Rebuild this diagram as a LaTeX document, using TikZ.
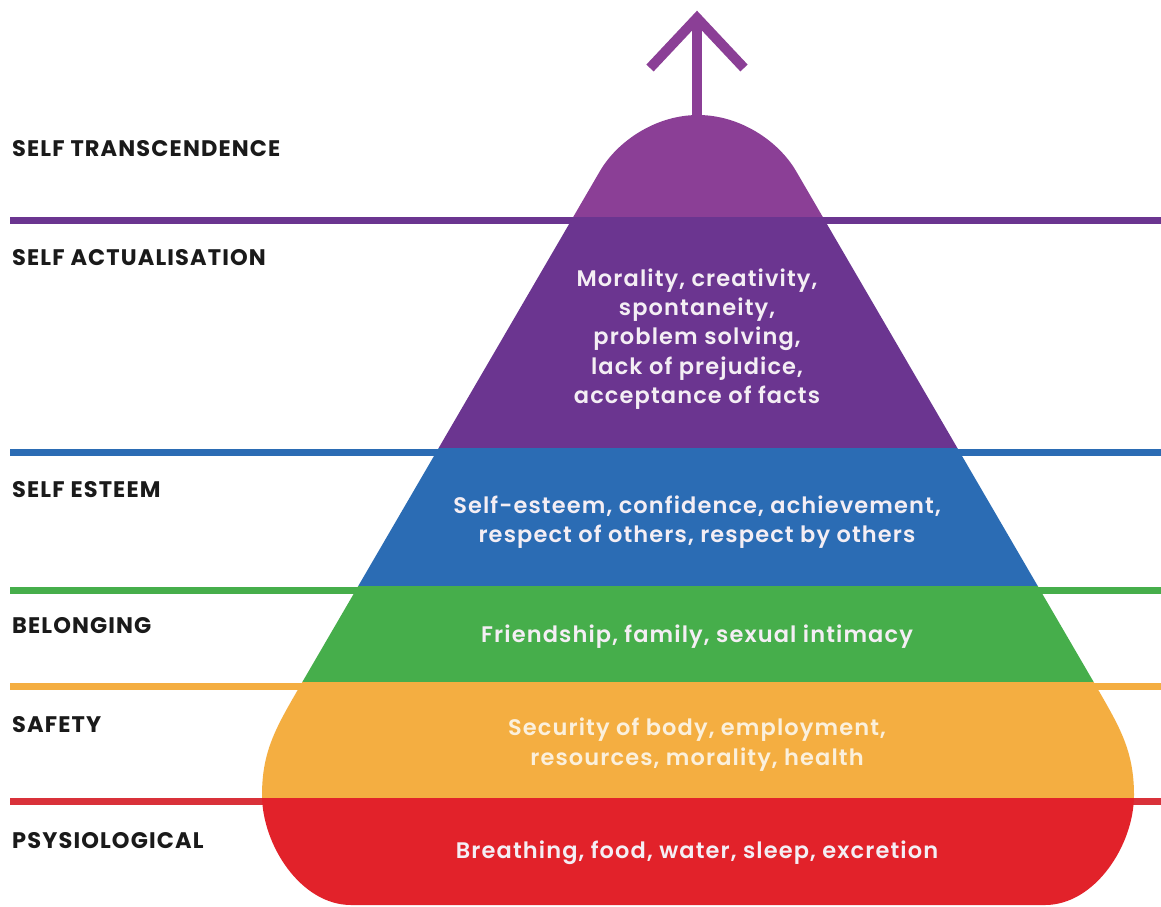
\documentclass[tikz,border=0pt]{standalone}
\usepackage{fontspec}
\setmainfont{Poppins}
\newfontfamily\popsb{Poppins SemiBold}[LetterSpace=5]
\newfontfamily\labfont{Poppins}[LetterSpace=5]
\definecolor{cDome}{HTML}{8B3F96}
\definecolor{cPurple}{HTML}{6B3590}
\definecolor{cBlue}{HTML}{2B6CB4}
\definecolor{cGreen}{HTML}{46AE4B}
\definecolor{cOrange}{HTML}{F4AE41}
\definecolor{cRed}{HTML}{E2222A}
\definecolor{cRedLine}{HTML}{D9313A}
\definecolor{labk}{HTML}{1A1A1A}
\definecolor{txtw}{HTML}{F4EEF4}
\definecolor{txto}{HTML}{FBF0DC}
\tikzset{
  levelline/.style={line width=7pt},
  lab/.style={anchor=base west, font=\labfont\fontsize{22.5}{27}\selectfont\bfseries, text=labk, inner sep=0pt},
  inner/.style={font=\popsb\fontsize{22.5}{29.3}\selectfont, text=txtw, align=center, inner sep=0pt},
  arrowstroke/.style={draw=cDome, line width=10pt, miter limit=10}
}
\def\pyr{(698,115) .. controls (740,115) and (778.5,141) .. (796,171) -- (1096,686) .. controls (1119,726) and (1134,750) .. (1134,795) .. controls (1134,845) and (1095,905) .. (1045,905) -- (351,905) .. controls (301,905) and (262,845) .. (262,795) .. controls (262,750) and (277,726) .. (300,686) -- (600,171) .. controls (617.5,141) and (656,115) .. (698,115) -- cycle}
\begin{document}
\begin{tikzpicture}[x=1pt,y=-1pt]
\useasboundingbox (0,0) rectangle (1161,906);
\fill[white] (0,0) rectangle (1161,906);
% level lines (behind pyramid)
\draw[levelline, cPurple] (10,220) -- (1161,220);
\draw[levelline, cBlue] (10,452) -- (1161,452);
\draw[levelline, cGreen] (10,590) -- (1161,590);
\draw[levelline, cOrange] (10,686) -- (1161,686);
\draw[levelline, cRedLine] (10,801.5) -- (1161,801.5);
% arrow
\draw[arrowstroke] (697,20) -- (697,120);
\draw[arrowstroke] (650,68) -- (697,18) -- (744,68);
% pyramid
\begin{scope}
\clip \pyr;
\fill[cDome] (0,0) rectangle (1161,217);
\fill[cPurple] (0,217) rectangle (1161,448);
\fill[cBlue] (0,448) rectangle (1161,586);
\fill[cGreen] (0,586) rectangle (1161,682);
\fill[cOrange] (0,682) rectangle (1161,798);
\fill[cRed] (0,798) rectangle (1161,906);
\end{scope}
% left labels
\node[lab] (l1) at (12,156.5) {SELF TRANSCENDENCE};
\node[lab] (l2) at (12,265) {SELF ACTUALISATION};
\node[lab] (l3) at (12,497) {SELF ESTEEM};
\node[lab] (l4) at (12,633) {BELONGING};
\node[lab] (l5) at (12,732) {SAFETY};
\node[lab] (l6) at (12,848) {PSYSIOLOGICAL};
% inner texts
\node[inner] (t1) at (697,339) {Morality, creativity,\\spontaneity,\\problem solving,\\lack of prejudice,\\acceptance of facts};
\node[inner] (t2) at (697,522) {Self-esteem, confidence, achievement,\\respect of others, respect by others};
\node[inner] (t3) at (697,637) {Friendship, family, sexual intimacy};
\node[inner, text=txto] (t4) at (697,744.5) {Security of body, employment,\\resources, morality, health};
\node[inner] (t5) at (697,853) {Breathing, food, water, sleep, excretion};
\end{tikzpicture}
\end{document}
